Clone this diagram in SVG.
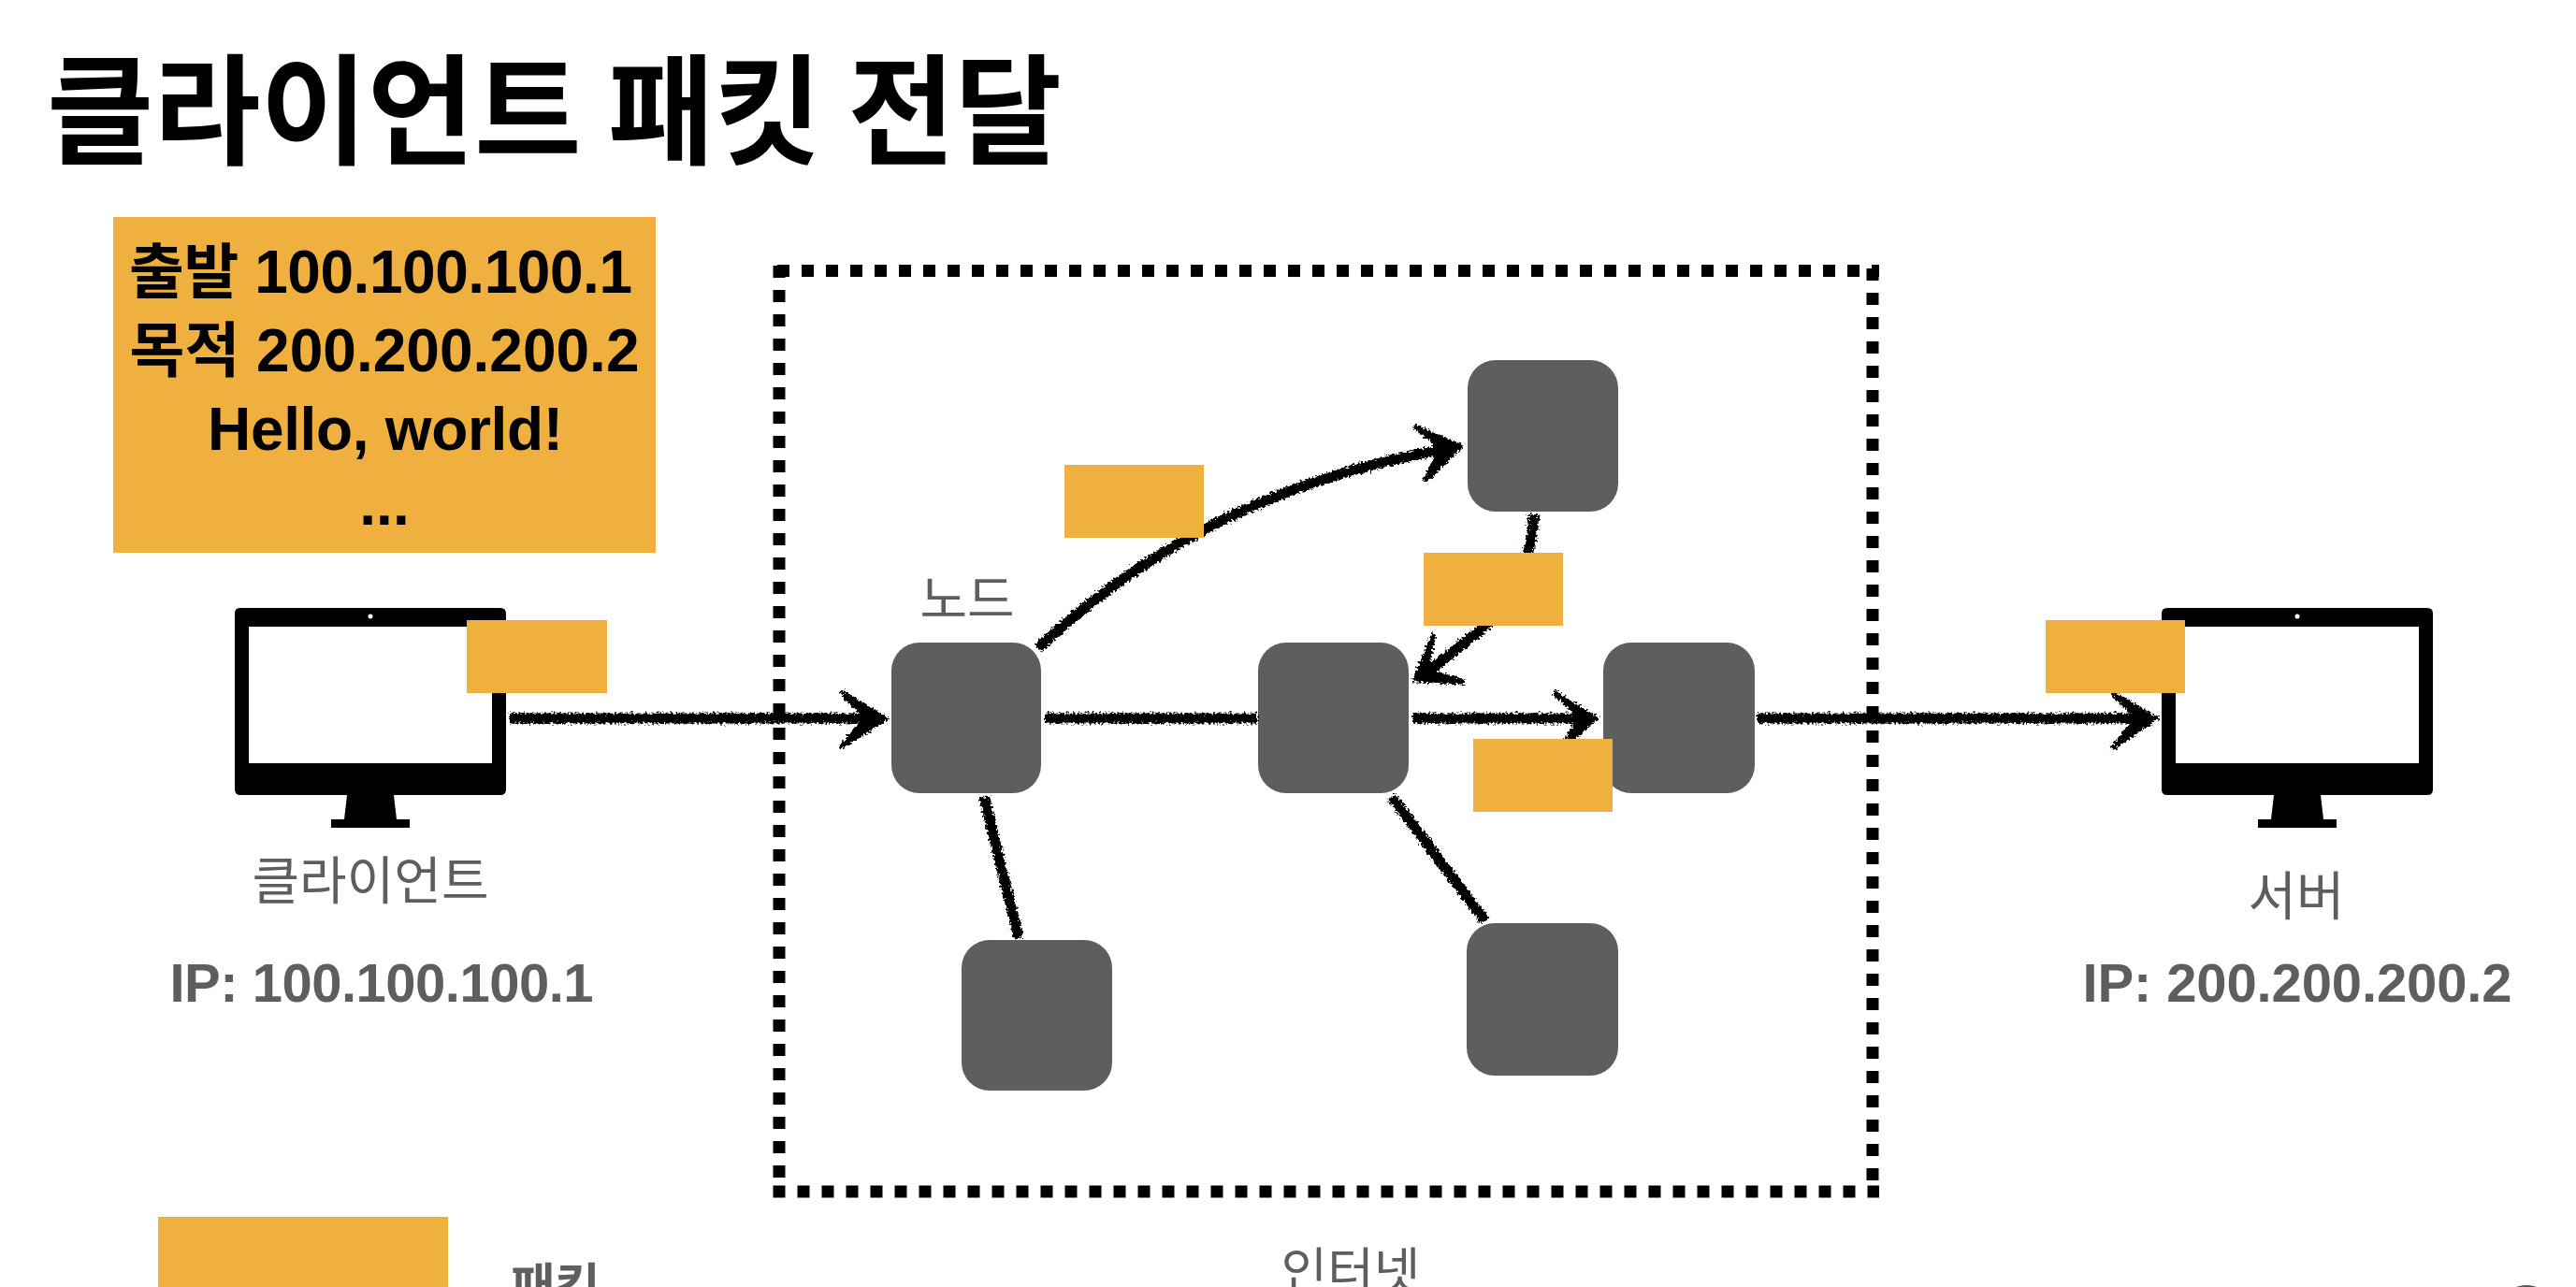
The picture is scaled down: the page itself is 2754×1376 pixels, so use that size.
<svg xmlns="http://www.w3.org/2000/svg" width="2754" height="1376" viewBox="0 0 2754 1376">
<style>
text{font-family:"Liberation Sans","Noto Sans CJK KR",sans-serif}
.ko{font-family:"Noto Sans CJK KR","Liberation Sans",sans-serif}
.p{fill:#efb03f}
.n{fill:#5e5e5e}
.b{font-weight:700}
.g{fill:#5e5e5e}
.m{text-anchor:middle}
.c{fill:none;stroke:#000;stroke-width:11;stroke-linecap:butt}
.h{fill:#000;stroke:#000;stroke-width:5;stroke-linejoin:miter}
.d{fill:none;stroke:#000;stroke-width:13;stroke-dasharray:13 13}
</style>
<defs>
<filter id="rough" x="0" y="0" width="2754" height="1376" filterUnits="userSpaceOnUse">
<feTurbulence type="fractalNoise" baseFrequency="0.4" numOctaves="2" seed="3" result="t"/>
<feDisplacementMap in="SourceGraphic" in2="t" scale="8" xChannelSelector="R" yChannelSelector="G"/>
</filter>
<g id="mon">
<path fill-rule="evenodd" d="M-139 -118h278q6 0 6 6v188q0 6-6 6h-278q-6 0-6-6v-188q0-6 6-6zM-130 -98v146h260v-146z"/>
<path d="M-25 82h50l3 26h-56z"/>
<rect x="-42" y="108" width="84" height="9"/>
<circle cx="0" cy="-109" r="2.5" fill="#fff"/>
</g>
</defs>
<rect width="2754" height="1376" fill="#fff"/>
<text id="title" class="ko b" x="50" y="166" font-size="128" textLength="1085" lengthAdjust="spacingAndGlyphs">클라이언트 패킷 전달</text>
<g id="packet-detail">
<rect class="p" x="121" y="232" width="580" height="359"/>
<text class="b m" x="407" y="313" font-size="64" textLength="538"><tspan class="ko">출발</tspan> 100.100.100.1</text>
<text class="b m" x="411" y="397" font-size="64" textLength="545"><tspan class="ko">목적</tspan> 200.200.200.2</text>
<text class="b m" x="412" y="481" font-size="64" textLength="380">Hello, world!</text>
<text class="b m" x="411" y="561" font-size="64">...</text>
</g>
<g id="internet-frame">
<path class="d" d="M831 289.500H2009"/>
<path class="d" d="M833 284V1262"/>
<path class="d" d="M2002 287V1264"/>
<path class="d" d="M826.500 1274H2009"/>
</g>
<g id="client"><use href="#mon" x="396" y="768"/><text class="ko g m" x="396" y="961" font-size="55">클라이언트</text><text class="b g m" x="408" y="1071" font-size="58" textLength="453">IP: 100.100.100.1</text></g>
<g id="server"><use href="#mon" x="2456" y="768"/><text class="ko g m" x="2455" y="978" font-size="56">서버</text><text class="b g m" x="2456" y="1071" font-size="58" textLength="459">IP: 200.200.200.2</text></g>
<g id="node-a"><rect class="n" x="953" y="687" width="160" height="161" rx="30"/><text class="ko g m" x="1034" y="660" font-size="55">노드</text></g>
<g id="node-b"><rect class="n" x="1028" y="1005" width="161" height="161" rx="30"/></g>
<g id="node-c"><rect class="n" x="1569" y="385" width="161" height="162" rx="30"/></g>
<g id="node-d"><rect class="n" x="1345" y="687" width="161" height="161" rx="30"/></g>
<g id="node-e"><rect class="n" x="1714" y="687" width="162" height="161" rx="30"/></g>
<g id="node-f"><rect class="n" x="1568" y="987" width="162" height="163" rx="30"/></g>
<g id="connectors" filter="url(#rough)">
<path class="c" d="M545 768H930"/><path class="h" d="M899 740L946 768L899 799L923 772V764z"/>
<path class="c" d="M1110 693Q1286 526 1545 480"/><path class="h" d="M1512 456L1561 477L1523 515L1538 484L1533 472z"/>
<path class="c" d="M1640 550Q1636 622 1587 670L1522 722"/><path class="h" d="M1533 678L1513 727L1566 729L1535 720L1526 710z"/>
<path class="c" d="M1117 768H1344"/>
<path class="c" d="M1510 768H1690"/><path class="h" d="M1661 740L1706 768L1669 800L1687 772V764z"/>
<path class="c" d="M1879 768H2290"/><path class="h" d="M2258 741L2304 768L2258 800L2282 772V764z"/>
<path class="c" d="M1052 852L1089 1003"/>
<path class="c" d="M1488 852L1588 985"/>
</g>
<g id="packets">
<rect class="p" x="499" y="663" width="150" height="78"/>
<rect class="p" x="1138" y="497" width="149" height="78"/>
<rect class="p" x="1522" y="591" width="149" height="78"/>
<rect class="p" x="1575" y="790" width="149" height="78"/>
<rect class="p" x="2187" y="663" width="149" height="78"/>
</g>
<g id="legend">
<rect class="p" x="169" y="1301" width="310" height="75"/>
<text class="ko b g" x="546" y="1394" font-size="52">패킷</text>
</g>
<text id="internet-label" class="ko g m" x="1444" y="1379" font-size="54">인터넷</text>
<ellipse id="corner-mark" cx="2701" cy="1386" rx="20" ry="12" fill="#555"/>
</svg>
